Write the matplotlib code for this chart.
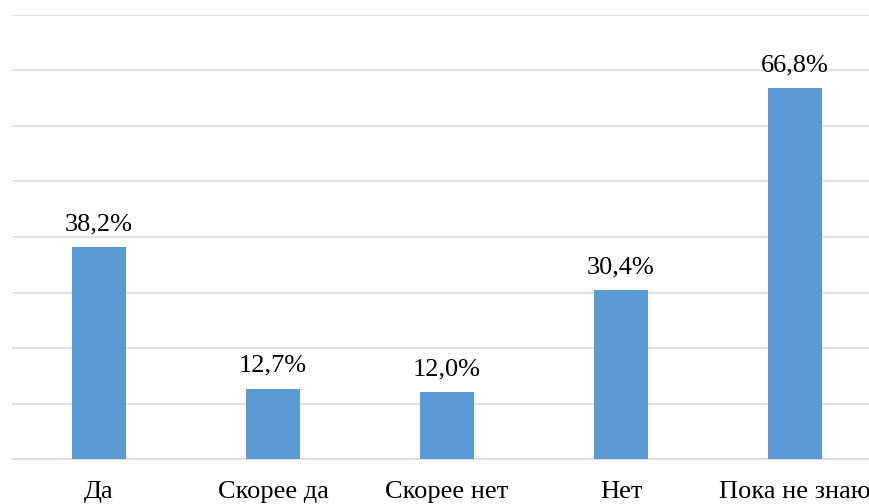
import matplotlib
matplotlib.use("Agg")
import matplotlib.pyplot as plt

categories = ["Да", "Скорее да", "Скорее нет", "Нет", "Пока не знаю"]
values = [38.2, 12.7, 12.0, 30.4, 66.8]
labels = ["38,2%", "12,7%", "12,0%", "30,4%", "66,8%"]

plt.rcParams['font.family'] = ['Liberation Serif', 'DejaVu Serif']

W, H = 870, 504
fig = plt.figure(figsize=(W / 100, H / 100), dpi=100)
ax = fig.add_axes([12 / W, 45 / H, 870 / W, 444 / H])

x = list(range(len(categories)))
ax.bar(x, values, width=54 / 174, color="#5B9BD5", zorder=3)
for xi, v, lab in zip(x, values, labels):
    ax.annotate(lab, (xi, v), xytext=(0, 8.5), textcoords="offset points",
                ha="center", va="bottom", fontsize=19, color="#000000")

ax.set_xlim(-0.5, len(categories) - 0.5)
ax.set_ylim(0, 80)
ax.set_yticks(range(0, 81, 10))
ax.set_yticklabels([])
ax.set_xticks(x)
ax.set_xticklabels(categories, fontsize=19)
ax.tick_params(axis="both", length=0)
ax.tick_params(axis="x", pad=15.5)
ax.grid(axis="y", color="#D9D9D9", linewidth=1.1, zorder=0)
for s in ["top", "right", "left"]:
    ax.spines[s].set_visible(False)
ax.spines["bottom"].set_color("#D9D9D9")
ax.spines["bottom"].set_linewidth(1.1)

fig.savefig("out.png", dpi=100)
